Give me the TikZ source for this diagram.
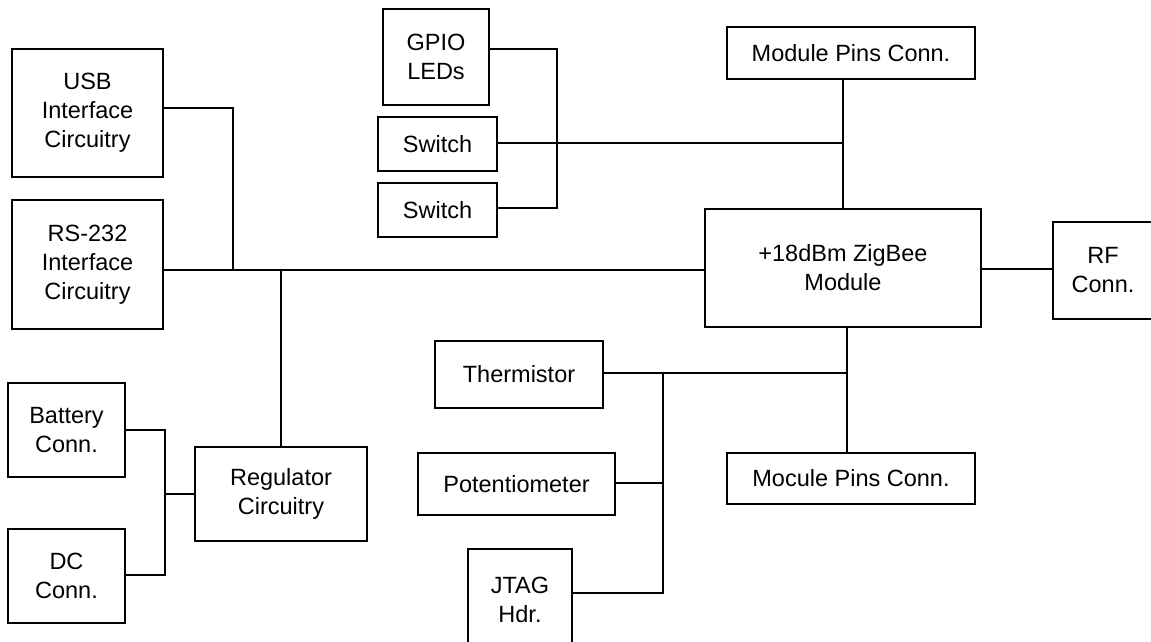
\documentclass[tikz,border=0pt]{standalone}
\usepackage{fontspec}
\setmainfont{Liberation Sans}
\begin{document}
\begin{tikzpicture}[x=1pt,y=-1pt,
  blk/.style={draw,line width=1.7pt,rectangle,inner sep=0pt,align=center,
    font=\fontsize{23.5}{29}\selectfont},
  wire/.style={line width=1.7pt}]
\useasboundingbox (0,0) rectangle (1151,642);
% boxes
\node[blk,minimum width=151,minimum height=128] (usb) at (87.5,113) {USB\\Interface\\Circuitry};
\node[blk,minimum width=151,minimum height=129] (rs) at (87.5,264.5) {RS-232\\Interface\\Circuitry};
\node[blk,minimum width=117,minimum height=94] (batt) at (66.5,430) {Battery\\Conn.};
\node[blk,minimum width=117,minimum height=94] (dc) at (66.5,576) {DC\\Conn.};
\node[blk,minimum width=172,minimum height=94] (reg) at (281,494) {Regulator\\Circuitry};
\node[blk,minimum width=106,minimum height=96] (gpio) at (436,57) {GPIO\\LEDs};
\node[blk,minimum width=119,minimum height=54] (sw1) at (437.5,144) {Switch};
\node[blk,minimum width=119,minimum height=54] (sw2) at (437.5,210) {Switch};
\node[blk,minimum width=248,minimum height=52] (mpt) at (851,53) {Module Pins Conn.};
\node[blk,minimum width=276,minimum height=118] (zb) at (843,268) {+18dBm ZigBee\\Module};
\node[blk,minimum width=100,minimum height=97] (rf) at (1103,270.5) {RF\\Conn.};
\node[blk,minimum width=168,minimum height=67] (therm) at (519,374.5) {Thermistor};
\node[blk,minimum width=197,minimum height=62] (pot) at (516.5,484) {Potentiometer};
\node[blk,minimum width=104,minimum height=101] (jtag) at (520,599.5) {JTAG\\Hdr.};
\node[blk,minimum width=248,minimum height=51] (mpb) at (851,478.5) {Mocule Pins Conn.};
% junctions
\coordinate (jusb) at (233,270);
\coordinate (jreg) at (281,270);
\coordinate (jpw) at (165,494);
\coordinate (jgp) at (557,208);
\coordinate (jtop) at (843,143);
\coordinate (jlow) at (847,373);
\coordinate (jth) at (663,373);
\coordinate (jjt) at (663,593);
\coordinate (jpot) at (663,483);
% wires
\draw[wire] (usb.east |- 0,108) -| (jusb);
\draw[wire] (rs.east |- jusb) -- (zb.west |- jusb);
\draw[wire] (jreg) -- (reg.north);
\draw[wire] (batt.east) -| (jpw);
\draw[wire] (dc.east |- 0,575) -| (jpw);
\draw[wire] (jpw) -- (reg.west);
\draw[wire] (gpio.east |- 0,49) -| (jgp) -- (sw2.east |- jgp);
\draw[wire] (sw1.east |- jtop) -- (jtop);
\draw[wire] (mpt.south -| jtop) -- (zb.north -| jtop);
\draw[wire] (zb.east |- 0,269) -- (rf.west |- 0,269);
\draw[wire] (zb.south -| jlow) -- (mpb.north -| jlow);
\draw[wire] (therm.east |- jth) -- (jlow);
\draw[wire] (jth) -- (jjt) -- (jtag.east |- jjt);
\draw[wire] (pot.east |- jpot) -- (jpot);
\end{tikzpicture}
\end{document}
